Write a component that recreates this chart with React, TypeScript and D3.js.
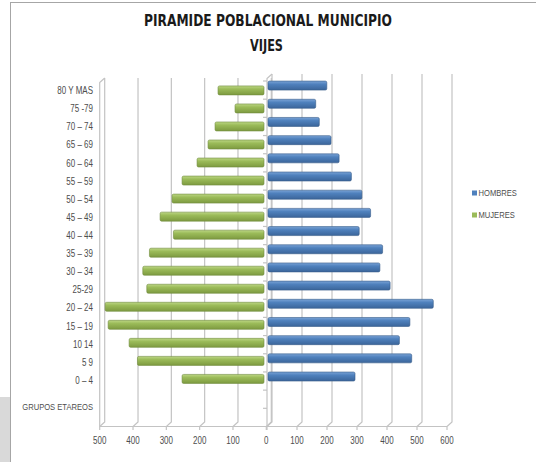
import React from "react";
import * as d3 from "d3";

const title1 = "PIRAMIDE POBLACIONAL MUNICIPIO";
const title2 = "VIJES";
const caption = "GRUPOS ETAREOS";
const categories = [
  "0 – 4", "5  9", "10  14", "15 – 19", "20 – 24", "25-29", "30 – 34", "35 – 39",
  "40 – 44", "45 – 49", "50 – 54", "55 – 59", "60 – 64", "65 – 69", "70 – 74", "75 -79", "80 Y MAS",
];
const mujeres = [246, 380, 405, 468, 477, 352, 364, 344, 272, 312, 276, 246, 201, 168, 147, 87, 138];
const hombres = [290, 479, 438, 473, 551, 407, 373, 382, 304, 342, 313, 278, 237, 210, 171, 159, 196];
const leftTicks = [500, 400, 300, 200, 100, 0];
const rightTicks = [0, 100, 200, 300, 400, 500, 600];
const legendItems = ["HOMBRES", "MUJERES"];

const W = 536;
const H = 462;
const DX = 5;
const DY = -4.5;
const FRONT_BOTTOM = 426.5;
const BACK_BOTTOM = FRONT_BOTTOM + DY;
const BLUE = "#4f81bd";
const GREEN = "#9bbb59";
const GRID = "#c3c3c3";
const TEXT = "#4d4d4d";
const narrow = "'Liberation Sans Narrow', 'Arial Narrow', 'DejaVu Sans Condensed', sans-serif";
const sans = "'Liberation Sans', Arial, sans-serif";
const SX = 0.8;

function SqText(props: { x: number; y: number; anchor: string; size: number; children: React.ReactNode }) {
  return (
    <text transform={`translate(${props.x},${props.y}) scale(${SX},1)`} textAnchor={props.anchor}
      fontFamily={sans} fontSize={props.size} fill={TEXT} dominantBaseline="middle">
      {props.children}
    </text>
  );
}

export default function App() {
  const yDomain = ["", caption, ...categories];
  const y = d3.scaleBand<string>().domain(yDomain).range([BACK_BOTTOM, 76.5]);
  const yL = d3.scaleBand<string>().domain(yDomain).range([424, 81.4]);
  const bw = y.bandwidth();
  const bwL = yL.bandwidth();
  const barH = 9;

  // Left (women) chart, reversed axis
  const xLb = d3.scaleLinear().domain([0, 500]).range([271.3, 104.7]);
  const xLf = (v: number) => xLb(v) - DX;
  const xLbar = d3.scaleLinear().domain([0, 500]).range([264, 97.5]);
  const LTOP = 78;

  // Right (men) chart
  const xRb = d3.scaleLinear().domain([0, 600]).range([272, 452]);
  const xRf = (v: number) => xRb(v) - DX;
  const xRbar = d3.scaleLinear().domain([0, 600]).range([268, 448]);
  const RTOP = 74;

  const cR = (c: string) => (y(c) as number) + bw / 2;
  const cL = (c: string) => (yL(c) as number) + bwL / 2;

  return (
    <svg width={W} height={H} style={{ position: "absolute", left: 0, top: 0, background: "#fff" }}>
      <defs>
        <linearGradient id="gBlue" x1="0" y1="0" x2="0" y2="1">
          <stop offset="0" stopColor="#7aa3d6" />
          <stop offset="0.35" stopColor={BLUE} />
          <stop offset="1" stopColor="#3b659a" />
        </linearGradient>
        <linearGradient id="gGreen" x1="0" y1="0" x2="0" y2="1">
          <stop offset="0" stopColor="#bcd684" />
          <stop offset="0.35" stopColor={GREEN} />
          <stop offset="1" stopColor="#7d9a40" />
        </linearGradient>
      </defs>
      <rect x={0} y={0} width={W} height={H} fill="#fff" />
      <rect x={0} y={397} width={10} height={65} fill="#d9d9d9" />
      <rect x={10.5} y={2.5} width={540} height={480} fill="#fff" stroke="#a6a6a6" strokeWidth={1} />

      <text x={268} y={26} textAnchor="middle" fontFamily={narrow} fontWeight="bold" fontSize={16.5}
        fill="#1a1a1a" textLength={248} lengthAdjust="spacingAndGlyphs">{title1}</text>
      <text x={266.5} y={51} textAnchor="middle" fontFamily={narrow} fontWeight="bold" fontSize={16.5}
        fill="#1a1a1a" textLength={33} lengthAdjust="spacingAndGlyphs">{title2}</text>

      {/* Left chart walls and grid */}
      <g stroke={GRID} strokeWidth={1.2} fill="none">
        {leftTicks.map((v) => (
          <polyline key={"lg" + v}
            points={`${xLb(v)},${LTOP} ${xLb(v)},${BACK_BOTTOM} ${xLf(v)},${FRONT_BOTTOM} ${xLf(v)},${FRONT_BOTTOM + 3.5}`} />
        ))}
        <line x1={xLf(500)} x2={xLf(0)} y1={FRONT_BOTTOM} y2={FRONT_BOTTOM} />
        <polyline points={`${xLb(500)},${LTOP} ${xLf(500)},${LTOP - DY} ${xLf(500)},${FRONT_BOTTOM}`} />
      </g>
      {categories.map((c, i) => (
        <rect key={"m" + c} x={xLbar(mujeres[i])} y={cL(c) - barH / 2}
          width={xLbar(0) - xLbar(mujeres[i])} height={barH} rx={1.5}
          fill="url(#gGreen)" stroke="#718c3e" strokeWidth={0.6} />
      ))}

      {/* Right chart walls and grid */}
      <g stroke={GRID} strokeWidth={1.2} fill="none">
        {rightTicks.map((v) => (
          <polyline key={"rg" + v}
            points={`${xRb(v)},${RTOP} ${xRb(v)},${BACK_BOTTOM} ${xRf(v)},${FRONT_BOTTOM} ${xRf(v)},${FRONT_BOTTOM + 3.5}`} />
        ))}
        <line x1={xRf(0)} x2={xRf(600)} y1={FRONT_BOTTOM} y2={FRONT_BOTTOM} />
        <polyline points={`${xRb(0)},${RTOP} ${xRf(0)},${RTOP - DY} ${xRf(0)},${FRONT_BOTTOM}`} />
        {yDomain.map((c) => (
          <line key={"t" + c} x1={xRf(0) - 4} x2={xRf(0)} y1={(y(c) as number) - DY} y2={(y(c) as number) - DY} />
        ))}
      </g>
      {categories.map((c, i) => (
        <rect key={"h" + c} x={xRbar(0)} y={cR(c) - barH / 2}
          width={xRbar(hombres[i]) - xRbar(0)} height={barH} rx={1.5}
          fill="url(#gBlue)" stroke="#385d8a" strokeWidth={0.6} />
      ))}

      {/* Category labels */}
      {categories.map((c) => (
        <SqText key={"l" + c} x={93} y={(cL(c) + cR(c)) / 2 + 3.5} anchor="end" size={10}>{c}</SqText>
      ))}
      <SqText x={93} y={(yL(caption) as number) + bwL + 2} anchor="end" size={9.5}>{caption}</SqText>

      {/* Value axis labels */}
      {leftTicks.map((v) => (
        <SqText key={"lv" + v} x={xLf(v)} y={441} anchor="middle" size={10}>{v}</SqText>
      ))}
      {rightTicks.filter((v) => v !== 0).map((v) => (
        <SqText key={"rv" + v} x={xRf(v)} y={441} anchor="middle" size={10}>{v}</SqText>
      ))}

      {/* Legend */}
      {legendItems.map((name, i) => (
        <g key={name}>
          <rect x={472} y={190.5 + i * 22} width={5} height={5} fill={i === 0 ? BLUE : GREEN} />
          <SqText x={478.5} y={193 + i * 22} anchor="start" size={9.5}>{name}</SqText>
        </g>
      ))}
    </svg>
  );
}
